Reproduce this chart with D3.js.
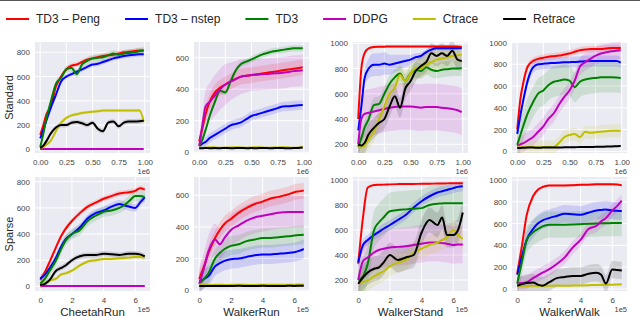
<!DOCTYPE html>
<html>
<head>
<meta charset="utf-8">
<script src="https://cdn.jsdelivr.net/npm/d3@7"></script>
<style>
  body { margin: 0; background: #fff; }
  svg { display: block; }
  text { font-family: "Liberation Sans", Arial, sans-serif; }
</style>
</head>
<body>
<div id="container"></div>
<script>
// series names, in plot order
const seriesNames = ['TD3 \u2013 Peng', 'TD3 \u2013 nstep', 'TD3', 'DDPG', 'Ctrace', 'Retrace'];
const envs = ['CheetahRun', 'WalkerRun', 'WalkerStand', 'WalkerWalk'];
const rowNames = ['Standard', 'Sparse'];

// x values (Standard in 1e6 steps, Sparse in 1e5 steps)
const xStd = [0, 0.03, 0.06, 0.1, 0.15, 0.2, 0.25, 0.3, 0.35, 0.4, 0.45, 0.5, 0.55, 0.6, 0.65, 0.7, 0.75, 0.8, 0.85, 0.9, 0.95, 0.99];
const xSparse = [0, 0.3, 0.6, 1, 1.3, 1.6, 2, 2.5, 3, 3.5, 4, 4.5, 5, 5.3, 5.6, 6, 6.3, 6.6];

const xTicksStd = [0, 0.25, 0.5, 0.75, 1.0];
const xTicksSparse = [0, 2, 4, 6];

// ---- Standard row: mean returns, one array per series ----
const stdCheetahRun = [
  [120, 200, 290, 350, 517, 600, 660, 690, 700, 720, 740, 750, 760, 770, 775, 780, 790, 800, 805, 810, 815, 815],
  [90, 160, 240, 340, 450, 560, 600, 620, 640, 660, 680, 700, 705, 720, 735, 750, 760, 770, 775, 780, 785, 785],
  [20, 130, 260, 390, 540, 590, 660, 670, 620, 700, 730, 750, 755, 760, 775, 790, 780, 790, 795, 800, 810, 815],
  [3, 3, 3, 3, 3, 3, 3, 3, 3, 3, 3, 3, 3, 3, 3, 3, 3, 3, 3, 3, 3, 3],
  [10, 20, 40, 70, 150, 220, 260, 280, 290, 300, 305, 310, 315, 320, 320, 320, 320, 320, 320, 320, 320, 230],
  [10, 30, 70, 130, 180, 200, 200, 220, 225, 215, 200, 220, 170, 150, 220, 230, 190, 220, 230, 230, 232, 235]
];
const stdWalkerRun = [
  [70, 150, 240, 320, 380, 410, 430, 450, 465, 480, 485, 490, 495, 500, 505, 510, 515, 520, 525, 530, 535, 540],
  [40, 55, 65, 90, 110, 130, 150, 170, 180, 190, 210, 230, 240, 250, 260, 270, 280, 290, 292, 295, 298, 300],
  [40, 80, 140, 230, 320, 390, 380, 450, 520, 560, 575, 590, 605, 620, 630, 640, 645, 650, 655, 660, 660, 660],
  [40, 170, 290, 320, 360, 400, 430, 450, 465, 480, 485, 490, 492, 495, 497, 500, 502, 505, 510, 515, 518, 520],
  [30, 28, 30, 32, 30, 28, 30, 30, 32, 30, 28, 30, 32, 30, 28, 30, 30, 32, 30, 28, 30, 35],
  [25, 25, 27, 25, 26, 25, 27, 25, 26, 27, 25, 26, 25, 27, 26, 25, 27, 26, 25, 26, 27, 30]
];
const stdWalkerStand = [
  [400, 800, 920, 960, 970, 972, 973, 975, 975, 975, 975, 975, 975, 975, 975, 975, 975, 975, 975, 975, 975, 970],
  [310, 500, 720, 800, 830, 830, 840, 830, 840, 850, 860, 870, 890, 900, 930, 950, 960, 960, 960, 960, 960, 960],
  [180, 250, 330, 400, 510, 520, 600, 680, 730, 760, 700, 760, 790, 780, 810, 790, 780, 790, 795, 800, 800, 805],
  [200, 400, 440, 450, 460, 470, 480, 490, 495, 500, 500, 500, 495, 490, 495, 495, 495, 490, 485, 480, 470, 455],
  [180, 175, 190, 240, 300, 400, 500, 600, 650, 750, 700, 760, 800, 800, 830, 850, 870, 880, 890, 900, 905, 910],
  [200, 190, 210, 280, 330, 370, 400, 500, 580, 490, 640, 700, 780, 820, 850, 920, 900, 920, 900, 940, 870, 860]
];
const stdWalkerWalk = [
  [200, 480, 640, 780, 830, 850, 860, 870, 875, 880, 890, 900, 915, 930, 935, 940, 940, 940, 945, 950, 950, 950],
  [160, 330, 480, 650, 770, 800, 805, 810, 812, 815, 818, 820, 822, 825, 828, 830, 830, 830, 830, 830, 830, 815],
  [60, 150, 240, 350, 450, 530, 560, 610, 640, 650, 660, 650, 590, 640, 660, 670, 675, 680, 680, 680, 678, 675],
  [50, 65, 75, 100, 130, 180, 230, 300, 350, 430, 500, 560, 650, 780, 820, 850, 880, 900, 910, 920, 925, 930],
  [40, 40, 38, 40, 40, 38, 40, 40, 40, 80, 130, 150, 160, 130, 180, 170, 175, 180, 185, 190, 190, 190],
  [30, 32, 33, 35, 35, 33, 35, 35, 36, 35, 37, 38, 38, 40, 40, 40, 42, 42, 44, 45, 48, 50]
];

// ---- Sparse row ----
const sparseCheetahRun = [
  [50, 110, 190, 300, 380, 440, 500, 560, 610, 640, 670, 690, 710, 715, 720, 730, 750, 740],
  [60, 90, 140, 220, 300, 360, 400, 450, 520, 560, 580, 610, 630, 620, 610, 600, 640, 680],
  [20, 60, 120, 200, 280, 350, 400, 430, 500, 540, 570, 580, 600, 620, 650, 690, 690, 680],
  [3, 3, 3, 3, 3, 3, 3, 3, 3, 3, 3, 3, 3, 3, 3, 3, 3, 3],
  [5, 25, 45, 60, 90, 100, 120, 160, 190, 200, 210, 210, 215, 218, 220, 225, 225, 220],
  [10, 20, 50, 120, 140, 160, 200, 230, 240, 240, 250, 245, 240, 245, 250, 250, 245, 230]
];
const sparseWalkerRun = [
  [70, 150, 240, 330, 380, 420, 450, 490, 520, 545, 560, 580, 590, 598, 605, 620, 625, 630],
  [55, 70, 90, 150, 170, 185, 195, 200, 210, 220, 225, 225, 230, 232, 235, 240, 248, 260],
  [40, 70, 110, 200, 235, 260, 280, 290, 310, 320, 330, 330, 335, 338, 340, 345, 348, 350],
  [40, 140, 250, 320, 290, 330, 380, 410, 440, 460, 470, 480, 490, 492, 495, 495, 495, 495],
  [35, 33, 32, 33, 34, 32, 33, 34, 33, 32, 34, 33, 33, 34, 33, 34, 35, 35],
  [25, 25, 26, 25, 26, 25, 26, 27, 26, 25, 27, 26, 25, 26, 27, 26, 27, 28]
];
const sparseWalkerStand = [
  [330, 700, 940, 960, 962, 963, 965, 967, 968, 968, 970, 970, 972, 972, 973, 974, 975, 975],
  [340, 480, 520, 560, 585, 610, 640, 680, 720, 780, 830, 870, 900, 910, 920, 935, 945, 950],
  [200, 230, 330, 600, 660, 700, 750, 760, 765, 770, 775, 800, 810, 812, 815, 815, 815, 815],
  [200, 350, 380, 420, 440, 450, 460, 465, 470, 480, 490, 500, 500, 495, 490, 480, 485, 485],
  [180, 185, 195, 230, 250, 270, 310, 340, 360, 420, 450, 480, 500, 520, 540, 600, 560, 530],
  [170, 220, 260, 290, 300, 340, 400, 360, 380, 400, 580, 680, 640, 700, 560, 560, 600, 740]
];
const sparseWalkerWalk = [
  [140, 400, 680, 850, 910, 935, 950, 950, 950, 952, 955, 957, 960, 960, 960, 960, 958, 950],
  [130, 300, 450, 550, 600, 630, 650, 670, 690, 685, 680, 700, 720, 725, 730, 720, 718, 715],
  [50, 250, 450, 520, 550, 575, 590, 590, 590, 592, 595, 598, 600, 602, 603, 605, 605, 605],
  [50, 55, 62, 100, 125, 150, 180, 230, 290, 380, 450, 550, 580, 620, 650, 720, 760, 810],
  [30, 30, 28, 30, 28, 30, 30, 32, 30, 32, 33, 35, 38, 38, 40, 40, 42, 45],
  [30, 45, 55, 60, 40, 30, 60, 100, 110, 120, 120, 140, 150, 130, 50, 180, 175, 170]
];

// ---- half widths of the shaded bands (one number or one array per series) ----
const stdCheetahRunBand = [20, 20, 30, 0, 15, 20];
const stdWalkerRunBand = [50, 30, 20,
  [10, 60, 100, 120, 130, 130, 130, 120, 115, 110, 105, 100, 100, 100, 100, 100, 100, 100, 100, 100, 100, 100], 5, 5];
const stdWalkerStandBand = [10,
  [20, 40, 60, 80, 90, 90, 90, 80, 70, 60, 50, 40, 30, 25, 20, 20, 15, 15, 15, 15, 15, 15],
  60, 185, 80, 80];
const stdWalkerWalkBand = [30, 50, 140, 80, 60, 5];
const sparseCheetahRunBand = [20, 30, 40, 0, 15, 20];
const sparseWalkerRunBand = [50, 60, 60, 100, 4, 4];
const sparseWalkerStandBand = [5, 40, 150, 150, 80, 100];
const sparseWalkerWalkBand = [10, 80, 120, 60, 10, 80];

// ---- y ranges and tick labels per panel ----
const yDomainsStd = [[-30, 885], [-5, 700], [131, 1010], [-15, 1005]];
const yDomainsSparse = [[-35, 836], [-6, 716], [112, 1024], [-18, 1027]];
const yTicksStd = [[0, 200, 400, 600, 800], [0, 200, 400, 600], [200, 400, 600, 800, 1000], [0, 200, 400, 600, 800, 1000]];
const yTicksSparse = [[0, 200, 400, 600, 800], [0, 200, 400, 600], [200, 400, 600, 800, 1000], [0, 200, 400, 600, 800, 1000]];

// matplotlib single-letter colours r, b, g, m, y, k
const colors = ['#ff0000', '#0000ff', '#008000', '#bf00bf', '#bfbf00', '#000000'];

// layout
const w = 640, h = 316;
const colX = [35, 194, 353, 512];
const pw = 115;
const rowTop = [42, 177];
const ph = [111, 114];

const svg = d3.select('#container').append('svg')
  .attr('width', w).attr('height', h);

svg.append('rect').attr('width', w).attr('height', h).attr('fill', '#fff');
svg.append('line').attr('x1', 0).attr('x2', w).attr('y1', 0.5).attr('y2', 0.5)
  .attr('stroke', '#555').attr('stroke-width', 1);

const rows = [
  { xs: xStd, xDomain: [-0.05, 1.05], xTicks: xTicksStd, xFmt: d3.format('.2f'), offset: '1e6',
    data: [stdCheetahRun, stdWalkerRun, stdWalkerStand, stdWalkerWalk],
    bands: [stdCheetahRunBand, stdWalkerRunBand, stdWalkerStandBand, stdWalkerWalkBand],
    yDomains: yDomainsStd, yTicks: yTicksStd },
  { xs: xSparse, xDomain: [-0.33, 6.93], xTicks: xTicksSparse, xFmt: d3.format('d'), offset: '1e5',
    data: [sparseCheetahRun, sparseWalkerRun, sparseWalkerStand, sparseWalkerWalk],
    bands: [sparseCheetahRunBand, sparseWalkerRunBand, sparseWalkerStandBand, sparseWalkerWalkBand],
    yDomains: yDomainsSparse, yTicks: yTicksSparse }
];

rows.forEach((row, r) => {
  envs.forEach((env, c) => {
    const g = svg.append('g').attr('transform', `translate(${colX[c]}, ${rowTop[r]})`);
    const x = d3.scaleLinear().domain(row.xDomain).range([0, pw]);
    const y = d3.scaleLinear().domain(row.yDomains[c]).range([ph[r], 0]);

    g.append('rect').attr('width', pw).attr('height', ph[r]).attr('fill', '#eaeaf2');

    // grid
    g.selectAll('.gx').data(row.xTicks).enter().append('line')
      .attr('x1', d => x(d)).attr('x2', d => x(d)).attr('y1', 0).attr('y2', ph[r])
      .attr('stroke', '#fff').attr('stroke-width', 1);
    g.selectAll('.gy').data(row.yTicks[c]).enter().append('line')
      .attr('y1', d => y(d)).attr('y2', d => y(d)).attr('x1', 0).attr('x2', pw)
      .attr('stroke', '#fff').attr('stroke-width', 1);

    const clipId = `clip${r}${c}`;
    g.append('clipPath').attr('id', clipId).append('rect').attr('width', pw).attr('height', ph[r]);
    const marks = g.append('g').attr('clip-path', `url(#${clipId})`);

    const series = row.data[c];
    const bands = row.bands[c];

    // shaded bands
    series.forEach((vals, s) => {
      const sp = bands[s];
      const half = i => Array.isArray(sp) ? sp[i] : sp;
      if (!Array.isArray(sp) && sp === 0) return;
      const area = d3.area()
        .x((d, i) => x(row.xs[i]))
        .y0((d, i) => y(d - half(i)))
        .y1((d, i) => y(d + half(i)))
        .curve(d3.curveMonotoneX);
      marks.append('path').datum(vals).attr('d', area)
        .attr('fill', colors[s]).attr('fill-opacity', 0.13);
    });

    // mean lines
    series.forEach((vals, s) => {
      const line = d3.line()
        .x((d, i) => x(row.xs[i]))
        .y(d => y(d))
        .curve(d3.curveMonotoneX);
      marks.append('path').datum(vals).attr('d', line)
        .attr('fill', 'none').attr('stroke', colors[s]).attr('stroke-width', 2)
        .attr('stroke-linejoin', 'round');
    });

    // axes
    const yAxis = d3.axisLeft(y).tickValues(row.yTicks[c]).tickFormat(d3.format('d'))
      .tickSize(0).tickPadding(5);
    const ya = g.append('g').call(yAxis);
    ya.select('.domain').remove();
    ya.selectAll('text').attr('font-size', 8).attr('fill', '#444')
      .style('font-family', '"Liberation Sans", Arial, sans-serif');

    const xAxis = d3.axisBottom(x).tickValues(row.xTicks).tickFormat(row.xFmt).tickSize(0).tickPadding(6);
    const xa = g.append('g').attr('transform', `translate(0, ${ph[r]})`).call(xAxis);
    xa.select('.domain').remove();
    xa.selectAll('text').attr('font-size', 8).attr('fill', '#444')
      .style('font-family', '"Liberation Sans", Arial, sans-serif');

    g.append('text').attr('x', pw).attr('y', ph[r] + 21)
      .attr('text-anchor', 'end').attr('font-size', 7.5).attr('fill', '#444')
      .text(row.offset);

    if (r === 1) {
      g.append('text').attr('x', pw / 2).attr('y', ph[r] + 24.5)
        .attr('text-anchor', 'middle').attr('font-size', 11.5).attr('fill', '#262626')
        .text(env);
    }
  });

  svg.append('text')
    .attr('transform', `translate(13, ${rowTop[r] + ph[r] / 2}) rotate(-90)`)
    .attr('text-anchor', 'middle').attr('font-size', 11).attr('fill', '#262626')
    .text(rowNames[r]);
});

// legend
const legend = svg.append('g').attr('transform', 'translate(6, 19)');
let lx = 0;
seriesNames.forEach((name, s) => {
  legend.append('line').attr('x1', lx).attr('x2', lx + 23).attr('y1', 0).attr('y2', 0)
    .attr('stroke', colors[s]).attr('stroke-width', 2);
  const t = legend.append('text').attr('x', lx + 30).attr('y', 4)
    .attr('font-size', 12).attr('fill', '#262626').text(name);
  lx += 30 + t.node().getComputedTextLength() + 25;
});
</script>
</body>
</html>
